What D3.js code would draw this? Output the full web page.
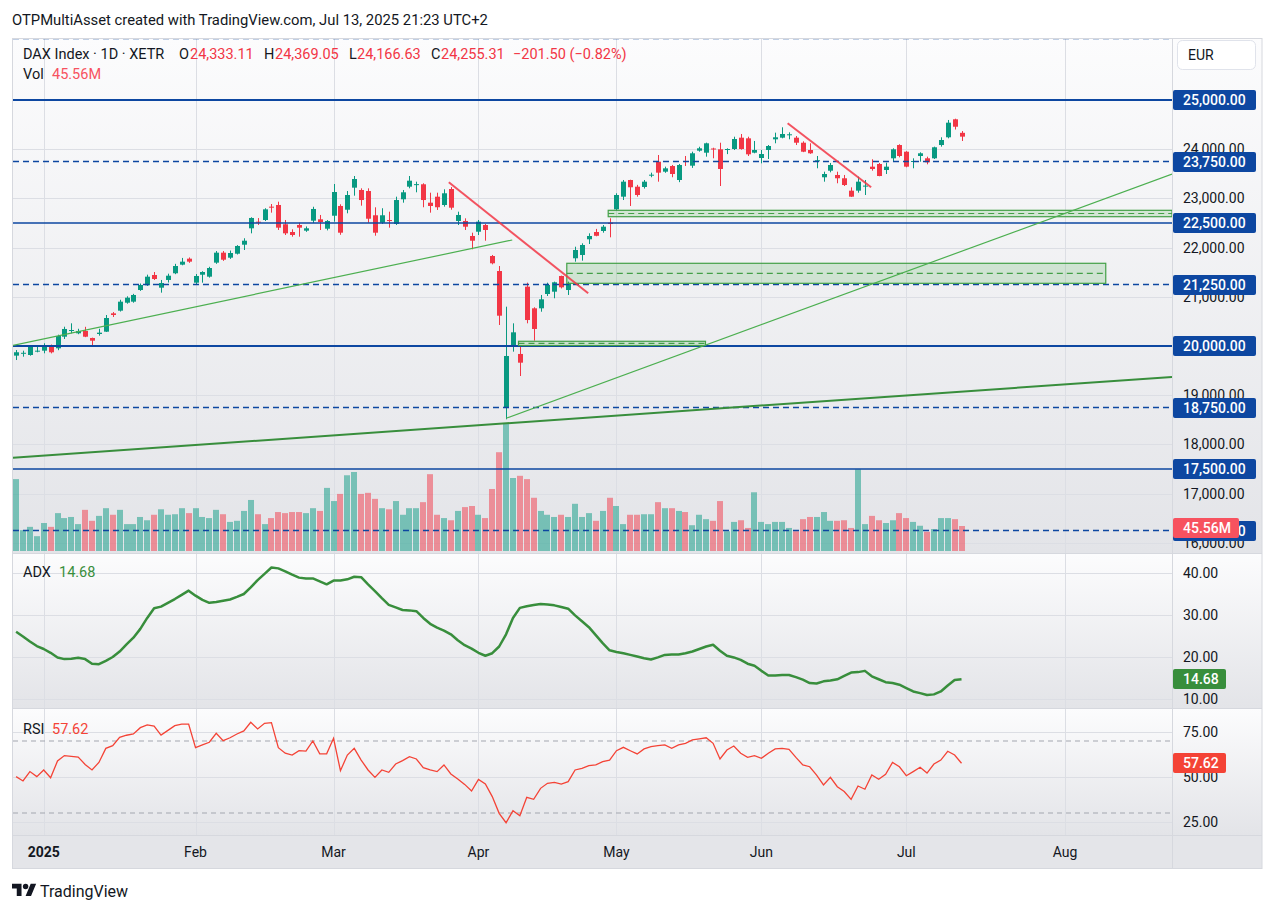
<!DOCTYPE html>
<html>
<head>
<meta charset="utf-8">
<script src="https://cdn.jsdelivr.net/npm/d3@7"></script>
<style>
    body { margin: 0; background: #fff; }
    svg { display: block; font-family: Roboto, "Liberation Sans", sans-serif; }
</style>
</head>
<body>
<svg id="chart" width="1275" height="913"></svg>
<script>
// DAX daily bars, first bar is Dec 20 2024 (index -4), index 0 = Jan 2 2025
var firstBar = -4;
var open = [19804, 19848, 19817, 19895, 19905, 20006, 19953, 20189, 20320, 20258,
    20305, 20163, 20244, 20291, 20664, 20718, 20880, 20901, 21138, 21234,
    21443, 21185, 21342, 21478, 21653, 21775, 21287, 21449, 21409, 21694,
    21897, 21795, 21876, 22059, 22392, 22527, 22561, 22832, 22866, 22474,
    22317, 22459, 22344, 22547, 22575, 22384, 22648, 22846, 22770, 23218,
    23171, 23150, 22657, 22506, 22561, 22480, 22982, 23238, 23285, 23287,
    22913, 23035, 22866, 23191, 22541, 22541, 22236, 22323, 22459, 21829,
    21524, 18746, 20020, 19838, 21206, 20766, 20766, 21057, 21104, 21423,
    21138, 21783, 21850, 22169, 22317, 22338, 22506, 22778, 23035, 23374,
    23238, 23232, 23465, 23746, 23543, 23658, 23374, 23760, 23665, 23970,
    23929, 24014, 23998, 23984, 24004, 24234, 24221, 23929, 23821, 23984,
    24201, 24234, 24295, 24234, 24132, 23984, 23760, 23429, 23563, 23476,
    23409, 23157, 23157, 23245, 23645, 23699, 23577, 23815, 24085, 23949,
    23745, 23862, 23815, 23815, 24085, 24242, 24608, 24333.11];
var high = [19919, 19905, 20020, 19986, 20055, 20030, 20230, 20392, 20461, 20350,
    20390, 20170, 20350, 20630, 20690, 20940, 21010, 21060, 21270, 21450,
    21504, 21342, 21470, 21670, 21790, 21800, 21463, 21520, 21610, 21930,
    21930, 21940, 22050, 22190, 22616, 22600, 22800, 22886, 22933, 22561,
    22372, 22506, 22430, 22830, 22663, 22560, 23293, 22880, 23150, 23455,
    23205, 23205, 22819, 22800, 22730, 23035, 23171, 23455, 23340, 23307,
    23116, 23116, 23185, 23230, 22730, 22595, 22303, 22561, 22480, 21850,
    21626, 20799, 20461, 20020, 21287, 20787, 21037, 21287, 21308, 21430,
    21308, 22018, 22087, 22290, 22380, 22459, 22596, 23104, 23374, 23380,
    23275, 23374, 23523, 23882, 23645, 23680, 23700, 23862, 23950, 24050,
    24133, 24030, 24132, 24018, 24254, 24309, 24254, 24167, 23984, 24085,
    24336, 24445, 24343, 24268, 24160, 24120, 23862, 23543, 23720, 23543,
    23476, 23225, 23442, 23374, 23795, 23720, 23727, 24018, 24100, 23960,
    23815, 23937, 23848, 24052, 24242, 24594, 24620, 24369.05];
var low = [19715, 19783, 19803, 19872, 19852, 19850, 19915, 20142, 20258, 20240,
    20180, 20020, 20210, 20285, 20590, 20700, 20860, 20880, 21120, 21220,
    21342, 21084, 21290, 21460, 21640, 21690, 21240, 21287, 21390, 21670,
    21730, 21770, 21860, 21951, 22290, 22460, 22540, 22710, 22358, 22256,
    22222, 22222, 22320, 22500, 22358, 22350, 22527, 22260, 22697, 23055,
    22852, 22506, 22242, 22480, 22405, 22460, 22913, 23205, 23124, 22820,
    22710, 22765, 22832, 22770, 22459, 22358, 21965, 22256, 22140, 21660,
    20427, 18510, 19885, 19390, 20461, 20108, 20697, 21016, 20970, 21170,
    21037, 21714, 21734, 22073, 22230, 22303, 22209, 22750, 22967, 22846,
    23035, 23200, 23430, 23340, 23520, 23430, 23330, 23659, 23620, 23950,
    23848, 23815, 23252, 23900, 23984, 23990, 23862, 23917, 23713, 23801,
    24120, 24221, 24201, 24085, 23940, 23905, 23612, 23340, 23530, 23307,
    23252, 23030, 23116, 23069, 23563, 23450, 23496, 23746, 23835, 23632,
    23612, 23746, 23693, 23801, 24052, 24221, 24400, 24166.63];
var close = [19873, 19862, 19986, 19905, 20000, 19872, 20203, 20346, 20325, 20305,
    20189, 20108, 20271, 20569, 20630, 20901, 20982, 21037, 21240, 21409,
    21362, 21280, 21429, 21626, 21714, 21714, 21423, 21504, 21585, 21897,
    21754, 21890, 22033, 22140, 22602, 22507, 22778, 22812, 22405, 22290,
    22256, 22405, 22392, 22785, 22520, 22541, 23130, 22303, 23069, 23394,
    22967, 22587, 22303, 22657, 22540, 22967, 23124, 23360, 23290, 22967,
    22846, 22820, 23104, 22811, 22663, 22425, 22140, 22527, 22358, 21681,
    20616, 19797, 20278, 19661, 20528, 20346, 20949, 21240, 21295, 21193,
    21274, 21951, 22053, 22236, 22240, 22425, 22480, 23069, 23340, 23226,
    23069, 23340, 23482, 23523, 23611, 23496, 23679, 23740, 23917, 24018,
    24120, 23995, 23598, 24004, 24207, 24004, 23896, 23984, 23902, 24065,
    24242, 24309, 24303, 24132, 23949, 23917, 23775, 23496, 23679, 23409,
    23272, 23035, 23340, 23260, 23598, 23455, 23645, 23998, 23862, 23645,
    23760, 23917, 23734, 24039, 24187, 24539, 24456.81, 24255.31];
// volume in millions
var volume = [131, 38, 44, 27, 51, 44, 69, 60, 62, 49,
    75, 55, 64, 78, 66, 75, 49, 49, 62, 56,
    66, 76, 66, 67, 78, 69, 78, 62, 60, 75,
    67, 53, 55, 73, 93, 67, 49, 60, 71, 69,
    71, 71, 69, 78, 73, 115, 91, 104, 138, 144,
    104, 106, 95, 78, 76, 91, 66, 78, 78, 89,
    140, 66, 60, 56, 73, 80, 82, 66, 60, 113,
    180, 233, 133, 137, 131, 97, 73, 66, 62, 66,
    62, 86, 62, 69, 55, 73, 97, 82, 49, 66,
    66, 67, 67, 89, 78, 78, 73, 71, 47, 66,
    58, 55, 91, 36, 53, 56, 42, 107, 53, 49,
    53, 53, 42, 36, 58, 62, 62, 71, 55, 55,
    56, 42, 149, 49, 64, 56, 51, 56, 69, 60,
    53, 46, 35, 40, 60, 60, 58, 45.56];
var adx = [26.0, 24.9, 23.7, 22.6, 21.9, 21.0, 19.9, 19.5, 19.6, 19.8,
    19.5, 18.4, 18.3, 19.1, 20.0, 21.3, 23.0, 24.6, 26.7, 29.3,
    31.6, 32.0, 32.9, 33.8, 34.8, 35.8, 34.6, 33.6, 32.9, 33.1,
    33.4, 33.7, 34.3, 35.0, 36.6, 38.3, 39.8, 41.3, 41.1, 40.4,
    39.6, 38.9, 38.7, 38.7, 38.0, 37.3, 38.2, 38.2, 38.5, 39.1,
    39.0, 37.3, 35.7, 34.0, 32.4, 31.8, 31.2, 31.1, 30.9, 29.3,
    27.9, 27.0, 26.3, 25.4, 24.0, 22.8, 22.0, 21.0, 20.3, 20.9,
    22.5, 25.4, 29.3, 31.7, 32.1, 32.4, 32.6, 32.5, 32.3, 31.9,
    31.5, 29.9, 28.5, 27.1, 25.2, 23.3, 21.6, 21.2, 20.9, 20.5,
    20.1, 19.7, 19.4, 19.9, 20.5, 20.6, 20.6, 20.9, 21.3, 21.9,
    22.5, 22.9, 21.5, 20.3, 19.9, 19.3, 18.4, 17.9, 16.7, 15.6,
    15.6, 15.7, 15.7, 15.2, 14.6, 13.8, 13.7, 14.2, 14.4, 14.7,
    15.5, 16.3, 16.4, 16.7, 15.4, 14.7, 14.0, 13.8, 13.4, 12.6,
    11.8, 11.4, 10.95, 11.1, 11.8, 13.2, 14.5, 14.68];
var rsi = [50.2, 47.8, 53.0, 50.2, 53.9, 49.6, 58.9, 61.9, 61.5, 61.1,
    57.0, 53.9, 58.1, 65.9, 67.4, 72.0, 73.2, 73.9, 77.4, 78.9,
    78.3, 73.3, 75.9, 78.5, 79.4, 79.4, 66.3, 67.8, 69.3, 74.3,
    70.2, 71.8, 73.9, 75.6, 80.4, 76.7, 79.8, 80.2, 66.3, 63.2,
    62.2, 64.6, 64.4, 70.0, 62.9, 62.9, 71.5, 53.5, 62.2, 65.9,
    59.4, 53.9, 49.8, 53.9, 52.6, 57.2, 59.1, 61.3, 60.0, 55.2,
    53.9, 53.0, 56.7, 51.7, 48.9, 45.9, 42.2, 48.7, 46.1, 39.1,
    29.8, 24.6, 31.3, 28.5, 38.7, 37.6, 43.7, 46.5, 47.0, 46.1,
    47.4, 53.9, 54.8, 56.3, 56.7, 58.5, 59.4, 64.6, 66.5, 64.6,
    62.8, 65.6, 66.9, 67.4, 67.8, 65.9, 67.8, 68.7, 70.6, 71.2,
    71.8, 68.7, 60.0, 65.0, 67.2, 63.2, 60.9, 61.9, 60.4, 63.2,
    65.6, 65.9, 65.4, 60.9, 56.7, 55.7, 51.1, 45.6, 49.8, 44.6,
    41.9, 37.6, 45.0, 43.2, 51.1, 48.7, 51.5, 58.1, 55.7, 50.7,
    53.0, 55.4, 52.2, 57.2, 59.4, 64.3, 62.2, 57.62];

// time axis
var tickLabels = ["2025", "Feb", "Mar", "Apr", "May", "Jun", "Jul", "Aug"];
var tickBars = [0, 22, 42, 63, 83, 104, 125, 148];

// value axes
var priceTicks = [16000, 17000, 18000, 19000, 20000, 21000, 22000, 23000, 24000, 25000];
var adxTicks = [10, 20, 30, 40];
var rsiTicks = [25, 50, 75];
var rsiBands = [30, 70];

// drawings: horizontal levels, trend lines [bar, price, bar, price], zones [bar0, bar1, low, high]
var levels = [26250, 25000, 23750, 22500, 21250, 20000, 18750, 17500, 16250];
var greenLines = [[-4.45, 20014, 67.9, 22155], [67, 18531, 163.5, 23494]];
var greenThick = [[-4.45, 17730, 163.5, 19372]];
var redLines = [[58.7, 23327, 78.9, 21071], [107.8, 24526, 119.9, 23226]];
var zones = [[81.8, 163.5, 22628, 22758], [75.8, 153.9, 21274, 21681], [68.8, 95.9, 20010, 20096]];

var up = "#089981", down = "#f23645", blue = "#0d47a1", green = "#43a047";
var L = 13, R = 1172, AR = 1262;
var main = [38, 553], pAdx = [554, 708], pRsi = [709, 835], pTime = [835, 868];

var svg = d3.select("#chart");
var defs = svg.append("defs");
var grad = defs.append("linearGradient").attr("id", "paneBg")
    .attr("x1", 0).attr("x2", 0).attr("y1", 0).attr("y2", 1);
grad.append("stop").attr("offset", "0%").attr("stop-color", "#fcfcfd");
grad.append("stop").attr("offset", "100%").attr("stop-color", "#e3e4e8");

function clip(id, p) {
    defs.append("clipPath").attr("id", id).append("rect")
        .attr("x", L).attr("y", p[0]).attr("width", R - L).attr("height", p[1] - p[0]);
}
clip("cMain", main); clip("cAdx", pAdx); clip("cRsi", pRsi);

var x = d3.scaleLinear().domain([-4.45, 163.5]).range([L, R]);
var y = d3.scaleLinear().domain([20000, 25000]).range([346, 100]);
var yv = d3.scaleLinear().domain([0, 45.56]).range([551, 526]);
var ya = d3.scaleLinear().domain([10, 40]).range([699, 573]);
var yr = d3.scaleLinear().domain([25, 75]).range([822, 732]);

var fmt = d3.format(",.2f");
var bars = d3.range(open.length).map(function (k) {
    return { i: firstBar + k, o: open[k], h: high[k], l: low[k], c: close[k], v: volume[k] };
});
var last = bars[bars.length - 1];
var prev = bars[bars.length - 2];

//backgrounds
[main, pAdx, pRsi].forEach(function (p) {
    svg.append("rect").attr("x", 12).attr("y", p[0]).attr("width", AR - 12).attr("height", p[1] - p[0])
        .attr("fill", "url(#paneBg)");
});
svg.append("rect").attr("x", 12).attr("y", pTime[0]).attr("width", AR - 12).attr("height", pTime[1] - pTime[0])
    .attr("fill", "#e4e5e9");

//grid
var grid = svg.append("g").attr("stroke", "#dcdee4").attr("stroke-width", 1);
tickBars.forEach(function (b) {
    var xx = Math.round(x(b)) + 0.5;
    grid.append("line").attr("x1", xx).attr("x2", xx).attr("y1", main[0]).attr("y2", pRsi[1]);
});
priceTicks.forEach(function (p) {
    var yy = Math.round(y(p)) + 0.5;
    grid.append("line").attr("x1", L).attr("x2", R).attr("y1", yy).attr("y2", yy);
});
adxTicks.forEach(function (v) {
    var yy = Math.round(ya(v)) + 0.5;
    grid.append("line").attr("x1", L).attr("x2", R).attr("y1", yy).attr("y2", yy);
});
rsiTicks.forEach(function (v) {
    var yy = Math.round(yr(v)) + 0.5;
    grid.append("line").attr("x1", L).attr("x2", R).attr("y1", yy).attr("y2", yy);
});

//main pane
var gm = svg.append("g").attr("clip-path", "url(#cMain)");

gm.selectAll(".vol").data(bars).enter().append("rect")
    .attr("x", function (d) { return Math.round(x(d.i)) - 3; })
    .attr("y", function (d) { return yv(d.v); })
    .attr("width", 6)
    .attr("height", function (d) { return yv(0) - yv(d.v); })
    .attr("fill", function (d) { return d.c >= d.o ? "rgba(8,153,129,0.5)" : "rgba(242,54,69,0.5)"; });

gm.selectAll(".wick").data(bars).enter().append("line")
    .attr("x1", function (d) { return Math.round(x(d.i)) + 0.5; })
    .attr("x2", function (d) { return Math.round(x(d.i)) + 0.5; })
    .attr("y1", function (d) { return y(d.h); })
    .attr("y2", function (d) { return y(d.l); })
    .attr("stroke", function (d) { return d.c >= d.o ? up : down; });

gm.selectAll(".body").data(bars).enter().append("rect")
    .attr("x", function (d) { return Math.round(x(d.i)) - 2; })
    .attr("y", function (d) { return y(Math.max(d.o, d.c)); })
    .attr("width", 5)
    .attr("height", function (d) { return Math.max(1, Math.abs(y(d.o) - y(d.c))); })
    .attr("fill", function (d) { return d.c >= d.o ? up : down; });

levels.forEach(function (p) {
    var dashed = p % 2500 != 0;
    var thick = p % 5000 == 0;
    gm.append("line").attr("x1", L).attr("x2", R).attr("y1", y(p)).attr("y2", y(p))
        .attr("stroke", blue)
        .attr("stroke-width", thick ? 2 : 1.3)
        .attr("stroke-dasharray", dashed ? "6,4" : null);
});

zones.forEach(function (z) {
    gm.append("rect").attr("x", x(z[0])).attr("y", y(z[3]))
        .attr("width", x(z[1]) - x(z[0])).attr("height", y(z[2]) - y(z[3]))
        .attr("fill", "rgba(76,175,80,0.2)").attr("stroke", green).attr("stroke-width", 1.2);
    var mid = y((z[2] + z[3]) / 2);
    gm.append("line").attr("x1", x(z[0])).attr("x2", x(z[1])).attr("y1", mid).attr("y2", mid)
        .attr("stroke", green).attr("stroke-width", 1.2).attr("stroke-dasharray", "6,4");
});

function trend(list, color, w) {
    list.forEach(function (t) {
        gm.append("line").attr("x1", x(t[0])).attr("y1", y(t[1])).attr("x2", x(t[2])).attr("y2", y(t[3]))
            .attr("stroke", color).attr("stroke-width", w);
    });
}
trend(greenLines, "#4caf50", 1.2);
trend(greenThick, "#388e3c", 2);
trend(redLines, "rgba(242,54,69,0.85)", 2);

//ADX pane
svg.append("g").attr("clip-path", "url(#cAdx)").append("path")
    .datum(adx)
    .attr("d", d3.line().x(function (d, k) { return x(firstBar + k); }).y(function (d) { return ya(d); }))
    .attr("fill", "none").attr("stroke", "#388e3c").attr("stroke-width", 2.5).attr("stroke-linejoin", "round");

//RSI pane
var gr = svg.append("g").attr("clip-path", "url(#cRsi)");
rsiBands.forEach(function (v) {
    gr.append("line").attr("x1", L).attr("x2", R).attr("y1", yr(v)).attr("y2", yr(v))
        .attr("stroke", "#a3a6af").attr("stroke-dasharray", "5,4");
});
gr.append("path").datum(rsi)
    .attr("d", d3.line().x(function (d, k) { return x(firstBar + k); }).y(function (d) { return yr(d); }))
    .attr("fill", "none").attr("stroke", "#f44336").attr("stroke-width", 1.3);

//frame and separators
var frame = svg.append("g").attr("stroke", "#d6d8de").attr("fill", "none");
frame.append("rect").attr("x", 12.5).attr("y", main[0] + 0.5).attr("width", AR - 12.5).attr("height", pTime[1] - main[0]);
[main[1], pAdx[1], pRsi[1]].forEach(function (yy) {
    frame.append("line").attr("x1", 12).attr("x2", AR).attr("y1", yy + 0.5).attr("y2", yy + 0.5);
});
frame.append("line").attr("x1", R + 0.5).attr("x2", R + 0.5).attr("y1", main[0]).attr("y2", pTime[1]);

//axis texts
var ax = svg.append("g").attr("font-size", 14).attr("fill", "#131722");
priceTicks.forEach(function (p) {
    ax.append("text").attr("x", 1183).attr("y", y(p)).attr("dy", "0.36em").text(fmt(p));
});
adxTicks.forEach(function (v) {
    ax.append("text").attr("x", 1183).attr("y", ya(v)).attr("dy", "0.36em").text(fmt(v));
});
rsiTicks.forEach(function (v) {
    ax.append("text").attr("x", 1183).attr("y", yr(v)).attr("dy", "0.36em").text(fmt(v));
});
tickLabels.forEach(function (t, k) {
    ax.append("text").attr("x", x(tickBars[k])).attr("y", 852).attr("dy", "0.36em")
        .attr("text-anchor", "middle").attr("font-weight", k == 0 ? "bold" : null).text(t);
});

function axisLabel(yc, text, fill, w) {
    svg.append("rect").attr("x", R + 1).attr("y", Math.round(yc) - 10).attr("width", w).attr("height", 20)
        .attr("rx", 2).attr("fill", fill);
    svg.append("text").attr("x", R + 11).attr("y", Math.round(yc)).attr("dy", "0.36em")
        .attr("font-size", 14).attr("font-weight", 500).attr("fill", "#fff").text(text);
}
levels.filter(function (p) { return y(p) > main[0] + 12; }).forEach(function (p) {
    axisLabel(y(p), fmt(p), blue, 83);
});
axisLabel(yv(last.v) + 2, last.v.toFixed(2) + "M", "#f7525f", 66);
axisLabel(ya(adx[adx.length - 1]), adx[adx.length - 1].toFixed(2), "#388e3c", 53);
axisLabel(yr(rsi[rsi.length - 1]), rsi[rsi.length - 1].toFixed(2), "#f44336", 53);

//currency box
svg.append("rect").attr("x", 1177.5).attr("y", 40.5).attr("width", 78).attr("height", 29).attr("rx", 5)
    .attr("fill", "#fff").attr("stroke", "#e0e3eb");
svg.append("text").attr("x", 1188).attr("y", 55).attr("dy", "0.36em").attr("font-size", 14)
    .attr("fill", "#131722").text("EUR");

//legend
var txt = svg.append("g").attr("font-size", 14.5).attr("fill", "#131722");
txt.append("text").attr("x", 12).attr("y", 20).attr("dy", "0.36em").attr("font-size", 14.8)
    .text("OTPMultiAsset created with TradingView.com, Jul 13, 2025 21:23 UTC+2");
function seg(xx, yy, s, color) {
    txt.append("text").attr("x", xx).attr("y", yy).attr("dy", "0.36em").attr("fill", color || "#131722").text(s);
}
var chg = last.c - prev.c;
seg(23, 54, "DAX Index · 1D · XETR");
seg(179, 54, "O"); seg(190, 54, fmt(last.o), down);
seg(264, 54, "H"); seg(275, 54, fmt(last.h), down);
seg(349, 54, "L"); seg(357, 54, fmt(last.l), down);
seg(431, 54, "C"); seg(441, 54, fmt(last.c), down);
seg(513, 54, "−" + fmt(-chg) + " (−" + (-chg / prev.c * 100).toFixed(2) + "%)", down);
seg(23, 74, "Vol"); seg(52, 74, last.v.toFixed(2) + "M", "#f7525f");
seg(23, 572, "ADX"); seg(59, 572, adx[adx.length - 1].toFixed(2), "#388e3c");
seg(23, 729, "RSI"); seg(52, 729, rsi[rsi.length - 1].toFixed(2), "#f44336");

//logo
var logo = svg.append("g").attr("transform", "translate(12,881) scale(0.68)").attr("fill", "#131722");
logo.append("path").attr("d", "M14 22H7V11H0V4h14v18z M28 22h-8l7.5-18h8L28 22z");
logo.append("circle").attr("cx", 20).attr("cy", 8).attr("r", 4);
svg.append("text").attr("x", 40).attr("y", 891).attr("dy", "0.36em").attr("font-size", 16)
    .attr("fill", "#131722").text("TradingView");
</script>
</body>
</html>
